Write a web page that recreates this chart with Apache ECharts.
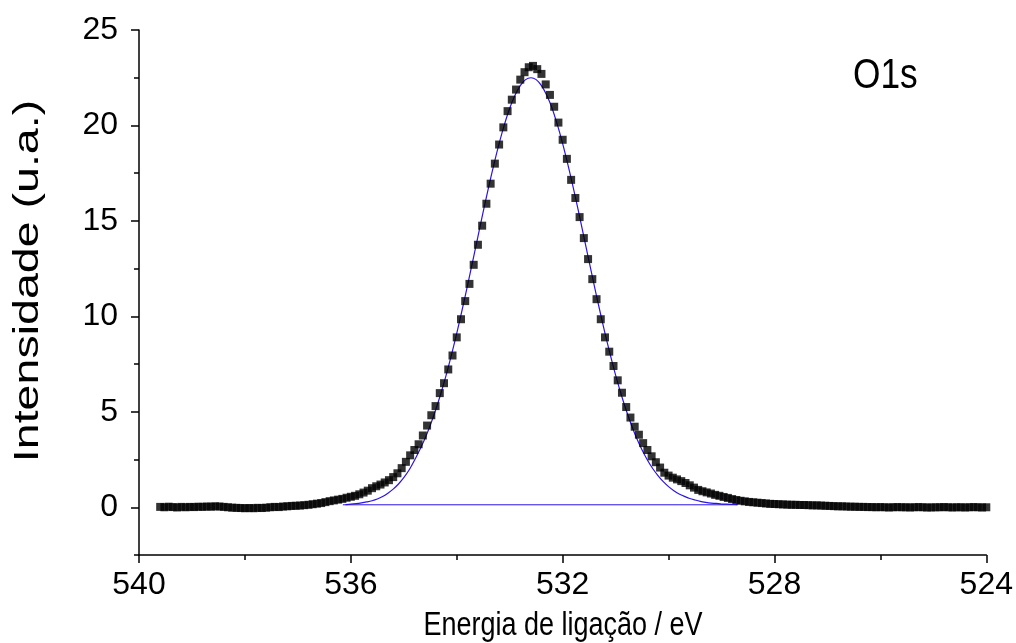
<!DOCTYPE html>
<html>
<head>
<meta charset="utf-8">
<script src="https://cdn.jsdelivr.net/npm/echarts@6/dist/echarts.min.js"></script>
<style>
html,body{margin:0;padding:0;background:#fff;}
#chart{width:1016px;height:643px;}
</style>
</head>
<body>
<div id="chart"></div>
<script>
// Measured XPS O1s spectrum (binding energy, eV)
const energy = [
539.60,539.52,539.44,539.36,539.28,539.20,539.12,539.04,538.96,538.88,
538.80,538.72,538.64,538.56,538.48,538.40,538.32,538.24,538.16,538.08,
538.00,537.92,537.84,537.76,537.68,537.60,537.52,537.44,537.36,537.28,
537.20,537.12,537.04,536.96,536.88,536.80,536.72,536.64,536.56,536.48,
536.40,536.32,536.24,536.16,536.08,536.00,535.92,535.84,535.76,535.68,
535.60,535.52,535.44,535.36,535.28,535.20,535.12,535.04,534.96,534.88,
534.80,534.72,534.64,534.56,534.48,534.40,534.32,534.24,534.16,534.08,
534.00,533.92,533.84,533.76,533.68,533.60,533.52,533.44,533.36,533.28,
533.20,533.12,533.04,532.96,532.88,532.80,532.72,532.64,532.56,532.48,
532.40,532.32,532.24,532.16,532.08,532.00,531.92,531.84,531.76,531.68,
531.60,531.52,531.44,531.36,531.28,531.20,531.12,531.04,530.96,530.88,
530.80,530.72,530.64,530.56,530.48,530.40,530.32,530.24,530.16,530.08,
530.00,529.92,529.84,529.76,529.68,529.60,529.52,529.44,529.36,529.28,
529.20,529.12,529.04,528.96,528.88,528.80,528.72,528.64,528.56,528.48,
528.40,528.32,528.24,528.16,528.08,528.00,527.92,527.84,527.76,527.68,
527.60,527.52,527.44,527.36,527.28,527.20,527.12,527.04,526.96,526.88,
526.80,526.72,526.64,526.56,526.48,526.40,526.32,526.24,526.16,526.08,
526.00,525.92,525.84,525.76,525.68,525.60,525.52,525.44,525.36,525.28,
525.20,525.12,525.04,524.96,524.88,524.80,524.72,524.64,524.56,524.48,
524.40,524.32,524.24,524.16,524.08,524.00
];
const intensity = [
0.02,0.00,0.03,0.01,-0.01,0.02,0.00,0.02,0.01,0.03,
0.02,0.04,0.03,0.05,0.04,0.02,0.00,-0.02,-0.03,-0.04,
-0.05,-0.04,-0.05,-0.03,-0.04,-0.02,0.00,0.02,0.01,0.04,
0.05,0.07,0.08,0.09,0.11,0.13,0.16,0.19,0.22,0.27,
0.32,0.36,0.40,0.44,0.50,0.55,0.60,0.68,0.77,0.87,
1.00,1.10,1.19,1.30,1.42,1.58,1.78,2.05,2.38,2.72,
3.00,3.30,3.76,4.28,4.82,5.30,5.98,6.50,7.22,7.95,
8.90,9.85,10.80,11.70,12.70,13.75,14.75,15.90,16.95,18.00,
19.00,19.90,20.75,21.35,21.88,22.40,22.79,23.05,23.12,22.95,
22.70,22.15,21.60,20.98,20.15,19.25,18.25,17.15,16.20,15.20,
14.10,13.00,11.95,10.90,9.85,8.90,8.15,7.40,6.65,6.00,
5.25,4.70,4.22,3.80,3.36,3.00,2.67,2.36,2.08,1.81,
1.66,1.55,1.46,1.37,1.27,1.15,1.03,0.91,0.84,0.78,
0.72,0.65,0.60,0.54,0.49,0.43,0.38,0.34,0.31,0.28,
0.26,0.24,0.22,0.20,0.18,0.17,0.16,0.15,0.14,0.13,
0.13,0.12,0.12,0.11,0.10,0.10,0.09,0.08,0.07,0.06,
0.05,0.05,0.04,0.03,0.03,0.02,0.02,0.01,0.01,0.00,
0.01,0.00,-0.01,0.00,0.01,0.00,0.00,-0.01,0.00,0.01,
0.00,-0.01,-0.01,0.00,0.00,0.01,0.00,-0.01,0.00,0.00,
-0.01,0.00,0.01,0.00,-0.01,0.00
];
// Fitted peak (blue curve)
const fitEnergy = [
536.1,536.0,535.9,535.8,535.7,535.6,535.5,535.4,535.3,535.2,
535.1,535.0,534.9,534.8,534.7,534.6,534.5,534.4,534.3,534.2,
534.1,534.0,533.9,533.8,533.7,533.6,533.5,533.4,533.3,533.2,
533.1,533.0,532.9,532.8,532.7,532.6,532.5,532.4,532.3,532.2,
532.1,532.0,531.9,531.8,531.7,531.6,531.5,531.4,531.3,531.2,
531.1,531.0,530.9,530.8,530.7,530.6,530.5,530.4,530.3,530.2,
530.1,530.0,529.9,529.8,529.7,529.6,529.5,529.4,529.3,529.2,
529.1,529.0,528.9,528.8,528.7
];
const fitValue = [
0.14,0.16,0.19,0.23,0.28,0.34,0.43,0.56,0.74,0.95,
1.22,1.55,1.95,2.45,3.00,3.60,4.30,5.08,5.96,6.92,
7.98,9.11,10.32,11.57,12.87,14.18,15.48,16.74,17.94,19.05,
20.04,20.90,21.58,22.09,22.40,22.50,22.40,22.09,21.58,20.90,
20.04,19.05,17.94,16.74,15.48,14.18,12.87,11.57,10.32,9.11,
7.98,6.92,5.96,5.08,4.30,3.60,3.00,2.48,2.03,1.66,
1.34,1.08,0.87,0.70,0.57,0.46,0.38,0.31,0.26,0.22,
0.20,0.17,0.16,0.15,0.14
];
// Background line under the fit
const baseEnergy = [536.15, 528.70];
const baseValue = [0.13, 0.13];

const xTicks = [540, 536, 532, 528, 524];
const yTicks = [0, 5, 10, 15, 20, 25];

const zip = (a, b) => a.map((v, i) => [v, b[i]]);
const FONT = '"Liberation Sans", Arial, sans-serif';
const chart = echarts.init(document.getElementById('chart'), null, {renderer: 'canvas'});
chart.setOption({
  animation: false,
  backgroundColor: '#fff',
  grid: {left: 139, right: 29, top: 30, bottom: 88, containLabel: false},
  xAxis: {
    type: 'value', min: 524, max: 540, interval: 4, inverse: true,
    axisLine: {show: true, onZero: false, lineStyle: {color: '#000', width: 1.5}},
    axisTick: {show: true, inside: false, length: 8, lineStyle: {color: '#000', width: 1.5}},
    minorTick: {show: true, splitNumber: 2, length: 5, lineStyle: {color: '#000', width: 1.5}},
    axisLabel: {fontFamily: FONT, fontSize: 32, color: '#000', margin: 14,
      formatter: v => xTicks.includes(v) ? String(v) : ''},
    splitLine: {show: false}, minorSplitLine: {show: false}
  },
  yAxis: [{
    type: 'value', min: -2.5, max: 25,
    axisLine: {show: true, onZero: false, lineStyle: {color: '#000', width: 1.5}},
    axisTick: {show: true, length: 8, customValues: yTicks, lineStyle: {color: '#000', width: 1.5}},
    axisLabel: {fontFamily: FONT, fontSize: 32, color: '#000', margin: 21, customValues: yTicks},
    splitLine: {show: false}
  }, {
    type: 'value', min: -2.5, max: 25, interval: 2.5, position: 'left', offset: 0,
    axisLine: {show: false},
    axisTick: {show: true, length: 5, lineStyle: {color: '#000', width: 1.5}},
    axisLabel: {show: false},
    splitLine: {show: false}
  }],
  graphic: [{
    type: 'text', x: 853, y: 76, scaleX: 0.82,
    style: {text: 'O1s', fontFamily: FONT, fontSize: 43, fill: '#000',
      align: 'left', verticalAlign: 'middle'}
  }, {
    type: 'text', x: 563, y: 626, scaleY: 1.2,
    style: {text: 'Energia de ligação / eV', fontFamily: FONT, fontSize: 27, fill: '#000',
      align: 'center', verticalAlign: 'middle'}
  }, {
    type: 'text', x: 28, y: 281, rotation: Math.PI / 2, scaleX: 1.33,
    style: {text: 'Intensidade (u.a.)', fontFamily: FONT, fontSize: 35, fill: '#000',
      align: 'center', verticalAlign: 'middle'}
  }],
  series: [{
    type: 'line', data: zip(baseEnergy, baseValue), showSymbol: false, symbol: 'none',
    lineStyle: {color: '#2a14e6', width: 1}, z: 2
  }, {
    type: 'line', data: zip(fitEnergy, fitValue), showSymbol: false, symbol: 'none', smooth: 0.3,
    lineStyle: {color: '#2a14e6', width: 1.2}, z: 2
  }, {
    type: 'scatter', data: zip(energy, intensity), symbol: 'rect', symbolSize: 8,
    itemStyle: {color: '#000'}, z: 3
  }]
});
</script>
</body>
</html>
